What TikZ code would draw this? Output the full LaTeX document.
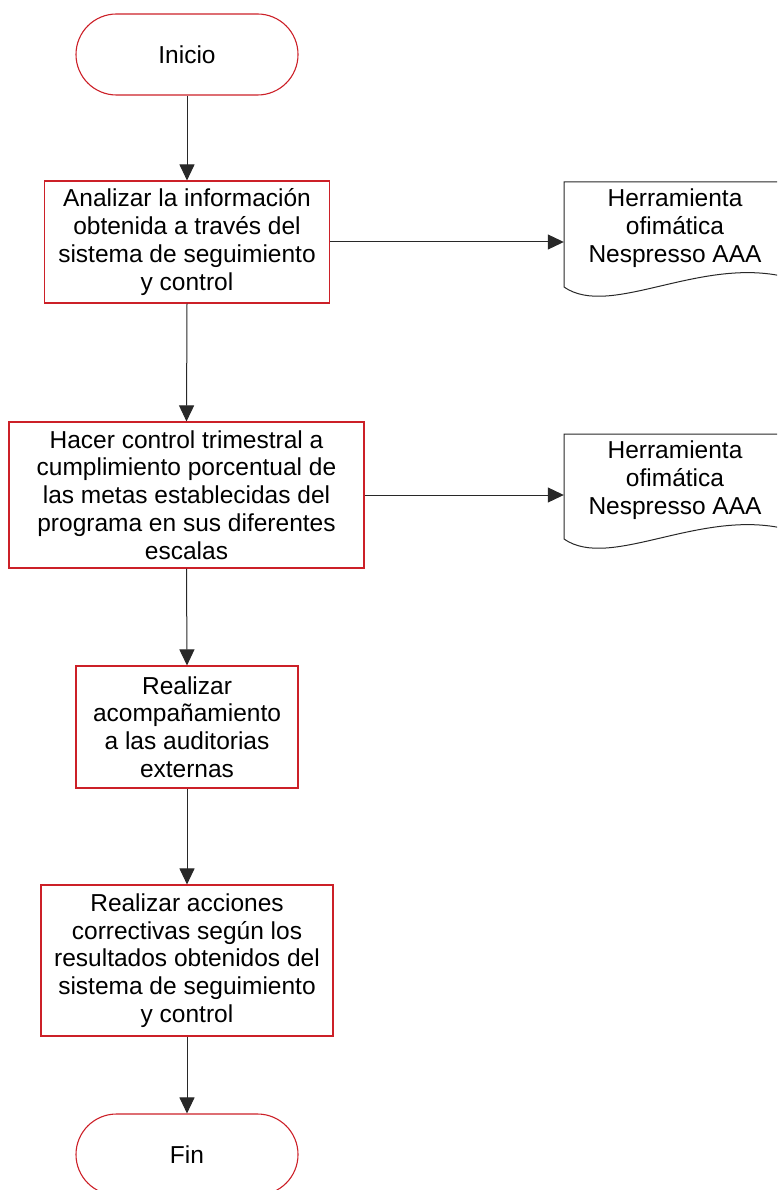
\documentclass[tikz,border=0pt]{standalone}
\usepackage{fontspec}
\setmainfont{Liberation Sans}
\usetikzlibrary{arrows.meta,calc}

\definecolor{boxred}{RGB}{204,32,40}
\definecolor{linegray}{RGB}{40,40,40}

\tikzset{
  every node/.style={font=\fontsize{24.5}{27.8}\selectfont, text=black},
  terminal/.style={draw=boxred, line width=1.1pt, rectangle, rounded corners=40.5pt,
    minimum width=222pt, minimum height=81pt, inner sep=0pt},
  process/.style={draw=boxred, line width=1.1pt, rectangle, align=center, inner sep=0pt},
  doctext/.style={align=center, inner sep=0pt, minimum width=222pt},
  docline/.style={draw=linegray, line width=1pt},
  flow/.style={draw=linegray, line width=1pt, -{Triangle[length=16pt,width=15pt]}}
}

% outline of a document symbol around a text node
\newcommand{\docshape}[1]{%
  \draw[docline] ($(#1.center)+(-111,59)$) -- ($(#1.center)+(-111,-46)$)
    -- ($(#1.center)+(111,-46)$) -- ($(#1.center)+(111,49)$)
    .. controls ($(#1.center)+(25,28)$) and ($(#1.center)+(-65,91)$) .. cycle;}

\begin{document}
\begin{tikzpicture}[x=1pt, y=-1pt]
  \useasboundingbox (0,0) rectangle (777,1190);
  \clip (0,0) rectangle (777,1190);

  % main column
  \node[terminal] (start) at (187,54.5) {Inicio};
  \node[process, minimum width=285pt, minimum height=122pt] (a1) at (187,242)
    {Analizar la información\\obtenida a través del\\sistema de seguimiento\\y control};
  \node[process, minimum width=355pt, minimum height=146pt] (a2) at (186.5,495)
    {Hacer control trimestral a\\cumplimiento porcentual de\\las metas establecidas del\\programa en sus diferentes\\escalas};
  \node[process, minimum width=222pt, minimum height=122pt] (a3) at (187,727)
    {Realizar\\acompañamiento\\a las auditorias\\externas};
  \node[process, minimum width=292pt, minimum height=151pt] (a4) at (187,960.5)
    {Realizar acciones\\correctivas según los\\resultados obtenidos del\\sistema de seguimiento\\y control};
  \node[terminal] (end) at (187,1154.5) {Fin};

  % documents
  \node[doctext] (d1) at (675,228) {Herramienta\\ofimática\\Nespresso AAA};
  \node[doctext] (d2) at (675,480) {Herramienta\\ofimática\\Nespresso AAA};
  \docshape{d1}
  \docshape{d2}

  % connectors
  \draw[flow] (start.south) -- (a1.north);
  \draw[flow] (a1.south) -- (a2.north);
  \draw[flow] (a2.south) -- (a3.north);
  \draw[flow] (a3.south) -- (a4.north);
  \draw[flow] (a4.south) -- (end.north);
  \draw[flow] (a1.east) -- (a1.east -| d1.west);
  \draw[flow] (a2.east) -- (a2.east -| d2.west);
\end{tikzpicture}
\end{document}
